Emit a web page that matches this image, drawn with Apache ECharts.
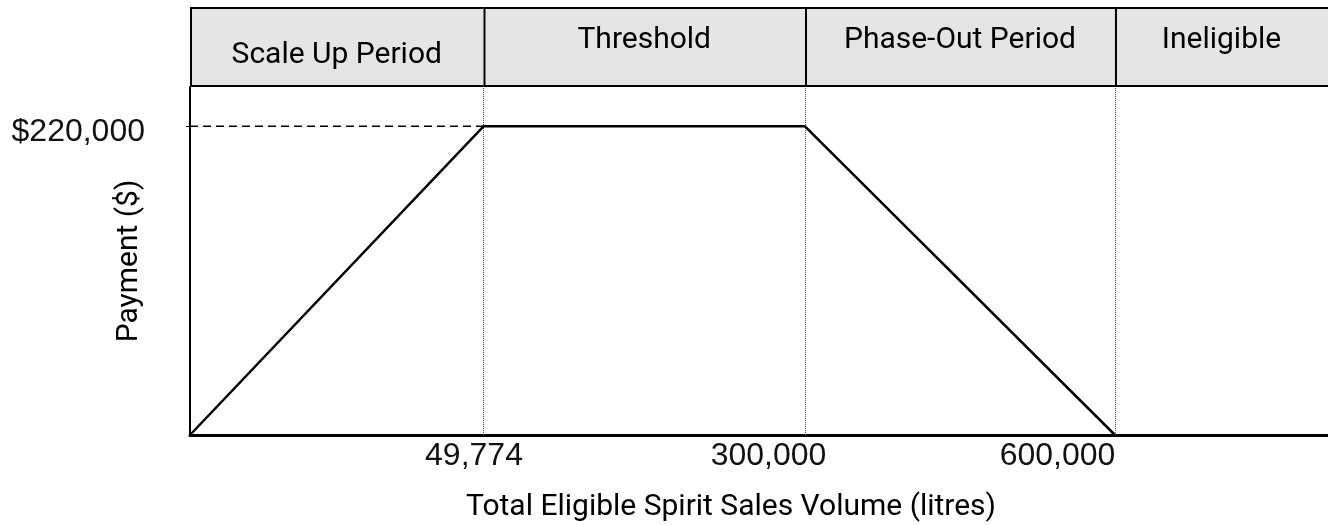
<!DOCTYPE html>
<html>
<head>
<meta charset="utf-8">
<script src="https://cdn.jsdelivr.net/npm/echarts@6/dist/echarts.min.js"></script>
<style>
  html, body { margin: 0; padding: 0; background: #fff; }
  #chart { width: 1328px; height: 525px; }
</style>
</head>
<body>
<div id="chart"></div>
<script>
// ---- data ----
// plotted x positions on the chart's (non-linear) horizontal scale, 0..100
const breakX = [0, 25.79, 54.04, 81.28];
const payment = [0, 220000, 220000, 0];
const xTickLabels = ['49,774', '300,000', '600,000'];
const yTickValues = [220000];
const phaseNames = ['Scale Up Period', 'Threshold', 'Phase-Out Period', 'Ineligible'];
const xMax = 100;
const yMax = 248000;

const headerFont = 'Roboto';
const tickFont = 'Liberation Sans';

const chart = echarts.init(document.getElementById('chart'), null, { renderer: 'canvas' });

const linePoints = breakX.map((x, i) => [x, payment[i]]);
const bounds = breakX.concat([xMax]);
const headerCells = phaseNames.map((n, i) => [bounds[i], bounds[i + 1], n]);
const boundaryTicks = breakX.slice(1);

const labelPad = [19, 73, 115];
const rich = {};
labelPad.forEach((p, i) => {
  rich['l' + i] = { fontFamily: tickFont, fontSize: 32, color: '#111', padding: [0, p, 0, 0] };
});

const option = {
  animation: false,
  backgroundColor: '#fff',
  grid: [
    { left: 190, right: 0, top: 87, bottom: 90, containLabel: false, outerBoundsMode: 'none' },
    { left: 190, right: 0, top: 7, height: 80, containLabel: false, outerBoundsMode: 'none' }
  ],
  xAxis: [
    {
      type: 'value', gridIndex: 0, min: 0, max: xMax,
      axisLine: { show: true, lineStyle: { color: '#000', width: 3 } },
      axisTick: { show: false },
      splitLine: { show: false },
      axisLabel: {
        customValues: boundaryTicks,
        margin: 5,
        formatter: function (v) {
          const i = boundaryTicks.findIndex(b => Math.abs(b - v) < 1e-6);
          return i >= 0 ? '{l' + i + '|' + xTickLabels[i] + '}' : '';
        },
        rich: rich
      },
      name: 'Total Eligible Spirit Sales Volume (litres)',
      nameLocation: 'middle',
      nameGap: 57,
      nameMoveOverlap: false,
      nameTextStyle: { fontFamily: headerFont, fontSize: 30, color: '#000', padding: [0, 56, 0, 0] }
    },
    {
      type: 'value', gridIndex: 1, min: 0, max: xMax, show: false
    }
  ],
  yAxis: [
    {
      type: 'value', gridIndex: 0, min: 0, max: yMax,
      axisLine: { show: true, lineStyle: { color: '#000', width: 2 } },
      axisTick: { show: true, customValues: yTickValues, length: 4, lineStyle: { color: '#000', width: 1 } },
      splitLine: { show: false },
      axisLabel: {
        customValues: yTickValues,
        margin: 45,
        formatter: v => '{v|$' + v.toLocaleString('en-US') + '}',
        rich: { v: { fontFamily: tickFont, fontSize: 32, color: '#111', padding: [11, 0, 0, 0] } }
      },
      name: 'Payment ($)',
      nameLocation: 'middle',
      nameGap: 46,
      nameRotate: 90,
      nameMoveOverlap: false,
      nameTextStyle: { fontFamily: headerFont, fontSize: 30, color: '#000' }
    },
    { type: 'value', gridIndex: 1, min: 0, max: 1, show: false }
  ],
  series: [
    {
      type: 'custom',
      xAxisIndex: 1, yAxisIndex: 1,
      silent: true,
      clip: false,
      data: headerCells,
      renderItem: function (params, api) {
        const s = api.value(0), e = api.value(1);
        const tl = api.coord([s, 1]);
        const br = api.coord([e, 0]);
        const name = phaseNames[params.dataIndex];
        const dy = params.dataIndex === 0 ? 15 : 0;
        return {
          type: 'group',
          children: [
            { type: 'rect', shape: { x: tl[0], y: tl[1], width: br[0] - tl[0], height: br[1] - tl[1] },
              style: { fill: '#e5e5e5' } },
            { type: 'line', shape: { x1: tl[0], y1: tl[1] + 1, x2: br[0], y2: tl[1] + 1 },
              style: { stroke: '#000', lineWidth: 2 } },
            { type: 'line', shape: { x1: tl[0], y1: br[1] - 1, x2: br[0], y2: br[1] - 1 },
              style: { stroke: '#000', lineWidth: 2 } },
            { type: 'line', shape: { x1: tl[0] + 1, y1: tl[1], x2: tl[0] + 1, y2: br[1] },
              style: { stroke: '#000', lineWidth: 2 } },
            { type: 'text',
              style: { text: name, x: (tl[0] + br[0]) / 2, y: (tl[1] + br[1]) / 2 - 7 + dy,
                       align: 'center', verticalAlign: 'middle',
                       font: '30px ' + headerFont, fill: '#000' } }
          ]
        };
      }
    },
    {
      type: 'line',
      xAxisIndex: 0, yAxisIndex: 0,
      data: [[breakX[0], payment[1]], [breakX[1], payment[1]]],
      symbol: 'none',
      silent: true,
      lineStyle: { color: '#000', width: 1.5, type: [8, 5] }
    },
    {
      type: 'line',
      xAxisIndex: 0, yAxisIndex: 0,
      data: linePoints,
      symbol: 'none',
      silent: true,
      lineStyle: { color: '#000', width: 2.5 },
      z: 5,
      markLine: {
        silent: true,
        symbol: 'none',
        label: { show: false },
        lineStyle: { color: '#444', width: 1, type: [1, 1] },
        data: boundaryTicks.map(b => ({ xAxis: b }))
      }
    }
  ]
};

chart.setOption(option);
</script>
</body>
</html>
